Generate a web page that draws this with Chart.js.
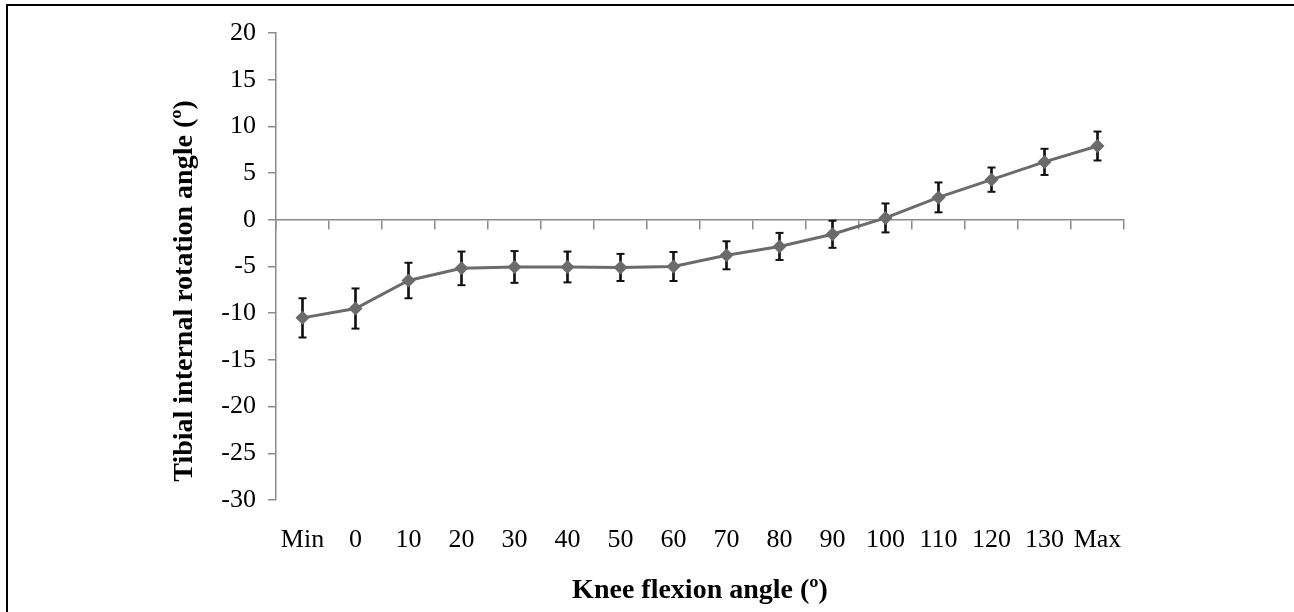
<!DOCTYPE html>
<html>
<head>
<meta charset="utf-8">
<script src="https://cdn.jsdelivr.net/npm/chart.js@4.4.1/dist/chart.umd.min.js"></script>
<style>
  html, body { margin: 0; padding: 0; background: #fff; }
  #wrap { position: relative; width: 1294px; height: 612px; overflow: hidden; }
  #frame { position: absolute; left: 6px; top: 4px; right: -4px; bottom: -4px;
           border-top: 2px solid #000; border-left: 2px solid #000; pointer-events: none; }
  canvas { position: absolute; left: 0; top: 0; }
</style>
</head>
<body>
<div id="wrap">
  <canvas id="c" width="1294" height="612"></canvas>
  <div id="frame"></div>
</div>
<script>
// knee flexion categories
const labels = ['Min', '0', '10', '20', '30', '40', '50', '60', '70', '80', '90', '100', '110', '120', '130', 'Max'];
// mean tibial internal rotation (deg)
const means = [-10.5, -9.5, -6.5, -5.2, -5.05, -5.05, -5.1, -5.0, -3.8, -2.85, -1.55, 0.2, 2.4, 4.3, 6.2, 7.9];
// standard deviation (error bars)
const sds = [2.1, 2.15, 1.9, 1.8, 1.7, 1.65, 1.45, 1.55, 1.5, 1.45, 1.45, 1.55, 1.6, 1.3, 1.4, 1.55];
const yTicks = { min: -30, max: 20, step: 5 };

const axisGrey = '#8a8a8a';
const lineGrey = '#6b6b6b';
const serif = "'Liberation Serif', 'Times New Roman', serif";

const lows = means.map((m, i) => +(m - sds[i]).toFixed(2));
const highs = means.map((m, i) => +(m + sds[i]).toFixed(2));

new Chart(document.getElementById('c'), {
  type: 'line',
  data: {
    labels: labels,
    datasets: [
      {
        label: 'mean',
        data: means,
        borderColor: lineGrey,
        borderWidth: 3,
        backgroundColor: lineGrey,
        pointStyle: 'rectRot',
        pointRadius: 7,
        pointBorderWidth: 0,
        pointBackgroundColor: lineGrey,
        tension: 0,
        order: 0
      },
      {
        type: 'bar',
        label: 'sd',
        data: lows.map((l, i) => [l, highs[i]]),
        backgroundColor: '#111',
        borderWidth: 0,
        barThickness: 2,
        order: 2
      },
      {
        label: 'capHi',
        data: highs,
        showLine: false,
        pointStyle: 'line',
        pointRadius: 4,
        pointBorderWidth: 2,
        pointBorderColor: '#111',
        order: 1
      },
      {
        label: 'capLo',
        data: lows,
        showLine: false,
        pointStyle: 'line',
        pointRadius: 4,
        pointBorderWidth: 2,
        pointBorderColor: '#111',
        order: 1
      }
    ]
  },
  options: {
    responsive: false,
    animation: false,
    layout: { padding: { top: 33, right: 170, bottom: 0, left: 0 } },
    plugins: { legend: { display: false }, tooltip: { enabled: false } },
    scales: {
      x: {
        type: 'category',
        position: 'bottom',
        offset: true,
        grid: { display: false },
        border: { display: false },
        ticks: { color: '#000', font: { family: serif, size: 26 }, padding: 17, maxRotation: 0, autoSkip: false },
        title: { display: true, text: 'Knee flexion angle (º)', color: '#000',
                 font: { family: serif, size: 28, weight: 'bold' }, padding: { top: 14 } },
        afterFit: s => { s.height = 112; }
      },
      x2: {
        type: 'category',
        position: { y: 0 },
        offset: true,
        grid: { display: true, drawOnChartArea: false, drawTicks: true, tickLength: 9,
                offset: true, color: axisGrey, lineWidth: 1.5 },
        border: { display: true, color: axisGrey, width: 1.5 },
        ticks: { display: false },
        afterFit: s => { s.height = 0; }
      },
      y: {
        min: yTicks.min,
        max: yTicks.max,
        grid: { drawOnChartArea: false, drawTicks: true, tickLength: 8, color: axisGrey, lineWidth: 1.5 },
        border: { display: true, color: axisGrey, width: 1.5 },
        ticks: { stepSize: yTicks.step, color: '#000', font: { family: serif, size: 26 }, padding: 12 },
        title: { display: true, text: 'Tibial internal rotation angle (º)' + '\u00a0'.repeat(7), color: '#000',
                 font: { family: serif, size: 28, weight: 'bold' }, padding: { top: 168 } },
        afterFit: s => { s.width = 276; }
      }
    }
  }
});
</script>
</body>
</html>
